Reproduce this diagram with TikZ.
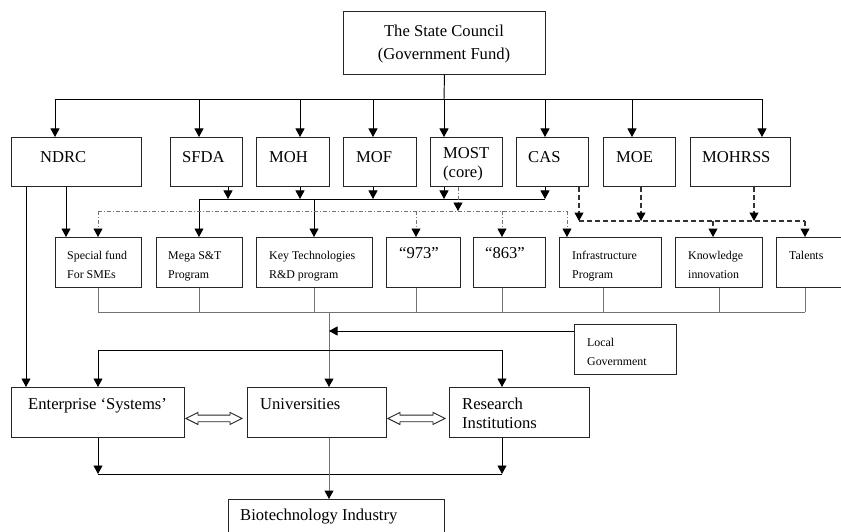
\documentclass[tikz,border=0pt]{standalone}
\usepackage{fontspec}
\setmainfont{Liberation Serif}
\usetikzlibrary{arrows.meta,calc}
\tikzset{
  bx/.style={draw=black!85, line width=0.95pt, rectangle, inner sep=0pt, anchor=north west},
  big/.style={font=\fontsize{16.6}{19}\selectfont, inner sep=0pt, anchor=base west},
  sml/.style={font=\fontsize{11.9}{19}\selectfont, inner sep=0pt, anchor=base west},
  ln/.style={line width=0.95pt, draw=black},
  tip/.style={-{Triangle[width=9pt,length=8.5pt,color=black]}},
  arr/.style={ln, tip},
  glin/.style={line width=1pt, draw=black!55},
  garr/.style={glin, tip},
  dd/.style={line width=0.9pt, draw=black!55, dash pattern=on 4pt off 2pt on 1pt off 2pt},
  dda/.style={dd, tip},
  dsh/.style={line width=1.1pt, draw=black!80, dash pattern=on 5pt off 3pt},
  dsha/.style={dsh, tip},
  dbl/.style={line width=0.9pt, draw=black!85, fill=white}
}
\newcommand\mkbox[5]{\node[bx, minimum width=#4pt-#2pt, minimum height=#5pt-#3pt] (#1) at (#2,#3) {};}
\begin{document}
\begin{tikzpicture}[x=1pt,y=-1pt]
\useasboundingbox (0,0) rectangle (841,532);
\clip (0,0) rectangle (841,532);
% boxes
\mkbox{sc}{343}{11}{545}{74}
\mkbox{ndrc}{11}{137}{141}{186}
\mkbox{sfda}{170}{137}{242}{186}
\mkbox{moh}{256}{137}{329}{186}
\mkbox{mof}{343}{137}{416}{186}
\mkbox{most}{430}{137}{502}{186}
\mkbox{cas}{516}{137}{588}{186}
\mkbox{moe}{603}{137}{675}{186}
\mkbox{mohrss}{690}{137}{790}{186}
\mkbox{sme}{55}{237}{141}{287}
\mkbox{mega}{156}{237}{242}{287}
\mkbox{key}{256}{237}{372}{287}
\mkbox{nnt}{386}{237}{460}{287}
\mkbox{est}{473}{237}{545}{287}
\mkbox{infra}{559}{237}{661}{287}
\mkbox{know}{675}{237}{762}{287}
\mkbox{tal}{776}{237}{850}{287}
\mkbox{local}{574}{324}{676}{374}
\mkbox{ent}{11}{387}{184}{437}
\mkbox{uni}{247}{387}{386}{437}
\mkbox{res}{449}{387}{589}{437}
\mkbox{bio}{228}{499}{444}{545}
% texts
\node[big, anchor=base] (sc-t1) at (444,37) {The State Council};
\node[big, anchor=base] (sc-t2) at (444,60) {(Government Fund)};
\node[big] (ndrc-t) at (40,162.5) {NDRC};
\node[big] (sfda-t) at (182,162.5) {SFDA};
\node[big] (moh-t) at (269,162.5) {MOH};
\node[big] (mof-t) at (356,162.5) {MOF};
\node[big] (most-t1) at (443,158.5) {MOST};
\node[big] (most-t2) at (443,177.5) {(core)};
\node[big] (cas-t) at (528,162.5) {CAS};
\node[big] (moe-t) at (616,162.5) {MOE};
\node[big] (mohrss-t) at (702,162.5) {MOHRSS};
\node[sml] (sme-t1) at (67,259) {Special fund};
\node[sml] (sme-t2) at (67,278) {For SMEs};
\node[sml] (mega-t1) at (168,259) {Mega S\&T};
\node[sml] (mega-t2) at (168,278) {Program};
\node[sml] (key-t1) at (269,259) {Key Technologies};
\node[sml] (key-t2) at (269,278) {R\&D program};
\node[big] (nnt-t) at (399,258.5) {“973”};
\node[big] (est-t) at (485,258.5) {“863”};
\node[sml] (infra-t1) at (572,259) {Infrastructure};
\node[sml] (infra-t2) at (572,278) {Program};
\node[sml] (know-t1) at (688,259) {Knowledge};
\node[sml] (know-t2) at (688,278) {innovation};
\node[sml] (tal-t) at (789,259) {Talents};
\node[sml] (local-t1) at (587,346) {Local};
\node[sml] (local-t2) at (587,365.5) {Government};
\node[big] (ent-t) at (28,409) {Enterprise ‘Systems’};
\node[big] (uni-t) at (260,409) {Universities};
\node[big] (res-t1) at (462,409) {Research};
\node[big] (res-t2) at (462,428.5) {Institutions};
\node[big] (bio-t) at (240,520.5) {Biotechnology Industry};
% top distribution
\coordinate (t0) at (444,99);
\coordinate (tA) at (55,99);
\coordinate (tB) at (199,99);
\coordinate (tC) at (300,99);
\coordinate (tD) at (373,99);
\coordinate (tE) at (545,99);
\coordinate (tF) at (632,99);
\coordinate (tG) at (762,99);
\draw[ln] (sc.south) -- (t0);
\draw[ln] (tA) -- (tG);
\draw[arr] (tA) -- (ndrc.north -| tA);
\draw[arr] (tB) -- (sfda.north -| tB);
\draw[arr] (tC) -- (moh.north -| tC);
\draw[arr] (tD) -- (mof.north -| tD);
\draw[arr] (t0) -- (most.north -| t0);
\draw[arr] (tE) -- (cas.north -| tE);
\draw[arr] (tF) -- (moe.north -| tF);
\draw[arr] (tG) -- (mohrss.north -| tG);
% solid bus
\coordinate (uA) at (228,199);
\coordinate (uB) at (300,199);
\coordinate (uC) at (373,199);
\coordinate (uD) at (444,199);
\coordinate (uE) at (545,199);
\coordinate (uL) at (199,199);
\coordinate (uK) at (314,199);
\draw[arr] (sfda.south -| uA) -- (uA);
\draw[arr] (moh.south -| uB) -- (uB);
\draw[arr] (mof.south -| uC) -- (uC);
\draw[arr] (most.south -| uD) -- (uD);
\draw[arr] (cas.south -| uE) -- (uE);
\draw[ln] (uL) -- (uE);
\draw[arr] (uL) -- (mega.north -| uL);
\draw[arr] (uK) -- (key.north -| uK);
% dash-dot bus
\coordinate (d0) at (458,211);
\coordinate (dL) at (98,211);
\coordinate (dB) at (416,211);
\coordinate (dC) at (502,211);
\coordinate (dR) at (567,211);
\draw[dda] (most.south -| d0) -- (d0);
\draw[dd] (dL) -- (dR);
\draw[dda] (dL) -- (sme.north -| dL);
\draw[dda] (dB) -- (nnt.north -| dB);
\draw[dda] (dC) -- (est.north -| dC);
\draw[dda] (dR) -- (infra.north -| dR);
% dashed bus
\coordinate (e0) at (579,221);
\coordinate (e1) at (641,221);
\coordinate (e2) at (754,221);
\coordinate (e3) at (713,221);
\coordinate (eR) at (805,221);
\draw[dsha] (cas.south -| e0) -- (e0);
\draw[dsha] (moe.south -| e1) -- (e1);
\draw[dsha] (mohrss.south -| e2) -- (e2);
\draw[dsh] (e0) -- (eR);
\draw[dsha] (e3) -- (know.north -| e3);
\draw[dsha] (eR) -- (tal.north -| eR);
% NDRC
\coordinate (nx1) at (66,200);
\coordinate (nx2) at (26,300);
\draw[arr] (ndrc.south -| nx1) -- (sme.north -| nx1);
\draw[arr] (ndrc.south -| nx2) -- (ent.north -| nx2);
% collection bus
\coordinate (c1) at (98,312);
\coordinate (c2) at (199,312);
\coordinate (c3) at (314,312);
\coordinate (c4) at (416,312);
\coordinate (c5) at (502,312);
\coordinate (c6) at (603,312);
\coordinate (c7) at (719,312);
\coordinate (c8) at (805,312);
\coordinate (cm) at (329,312);
\draw[glin] (sme.south -| c1) -- (c1);
\draw[glin] (mega.south -| c2) -- (c2);
\draw[glin] (key.south -| c3) -- (c3);
\draw[glin] (nnt.south -| c4) -- (c4);
\draw[glin] (est.south -| c5) -- (c5);
\draw[glin] (infra.south -| c6) -- (c6);
\draw[glin] (know.south -| c7) -- (c7);
\draw[glin] (tal.south -| c8) -- (c8);
\draw[glin] (c1) -- (c8);
\draw[garr] (cm) -- (uni.north -| cm);
% local government
\coordinate (lg) at (329,331);
\draw[arr] (local.west |- lg) -- (lg);
% distribution to third row
\coordinate (mL) at (98,350);
\coordinate (mR) at (502,350);
\draw[ln] (mL) -- (mR);
\draw[arr] (mL) -- (ent.north -| mL);
\draw[arr] (mR) -- (res.north -| mR);
% bottom bus
\coordinate (bL) at (98,474);
\coordinate (bR) at (502,474);
\draw[arr] (ent.south -| bL) -- (bL);
\draw[arr] (res.south -| bR) -- (bR);
\draw[ln] (bL) -- (bR);
\draw[garr] (uni.south -| cm) -- (bio.north -| cm);
% hollow double arrows
\draw[dbl] let \p1=(ent.east), \p2=(uni.west) in
  (\x1+1pt,\y1-6pt) -- (\x1+13pt,\y1) -- (\x1+13pt,\y1-2.7pt) -- (\x2-17pt,\y1-2.7pt) -- (\x2-17pt,\y1)
  -- (\x2-5pt,\y1-6pt) -- (\x2-17pt,\y1-12pt) -- (\x2-17pt,\y1-9.3pt) -- (\x1+13pt,\y1-9.3pt) -- (\x1+13pt,\y1-12pt) -- cycle;
\draw[dbl] let \p1=(uni.east), \p2=(res.west) in
  (\x1+1pt,\y1-6pt) -- (\x1+13pt,\y1) -- (\x1+13pt,\y1-2.7pt) -- (\x2-16pt,\y1-2.7pt) -- (\x2-16pt,\y1)
  -- (\x2-4pt,\y1-6pt) -- (\x2-16pt,\y1-12pt) -- (\x2-16pt,\y1-9.3pt) -- (\x1+13pt,\y1-9.3pt) -- (\x1+13pt,\y1-12pt) -- cycle;
\end{tikzpicture}
\end{document}
